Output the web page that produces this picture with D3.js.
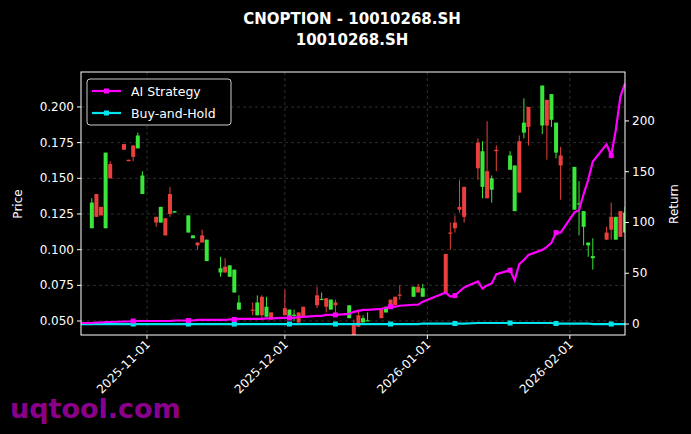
<!DOCTYPE html>
<html><head><meta charset="utf-8">
<script src="https://cdn.jsdelivr.net/npm/d3@7"></script>
<style>body{margin:0;background:#000}svg{display:block}</style>
</head><body><svg id="c" width="691" height="434"></svg>
<script>
const dates=["2025-10-17","2025-10-20","2025-10-21","2025-10-22","2025-10-23","2025-10-24","2025-10-27","2025-10-28","2025-10-29","2025-10-30","2025-10-31",
"2025-11-03","2025-11-04","2025-11-05","2025-11-06","2025-11-07","2025-11-10","2025-11-11","2025-11-12","2025-11-13","2025-11-14","2025-11-17","2025-11-18","2025-11-19","2025-11-20","2025-11-21","2025-11-24","2025-11-25","2025-11-26","2025-11-27","2025-11-28",
"2025-12-01","2025-12-02","2025-12-03","2025-12-04","2025-12-05","2025-12-08","2025-12-09","2025-12-10","2025-12-11","2025-12-12","2025-12-15","2025-12-16","2025-12-17","2025-12-18","2025-12-19","2025-12-22","2025-12-23","2025-12-24","2025-12-25","2025-12-26","2025-12-29","2025-12-30","2025-12-31",
"2026-01-05","2026-01-06","2026-01-07","2026-01-08","2026-01-09","2026-01-12","2026-01-13","2026-01-14","2026-01-15","2026-01-16","2026-01-19","2026-01-20","2026-01-21","2026-01-22","2026-01-23","2026-01-26","2026-01-27","2026-01-28","2026-01-29","2026-01-30",
"2026-02-02","2026-02-03","2026-02-04","2026-02-05","2026-02-06","2026-02-09","2026-02-10","2026-02-11","2026-02-12","2026-02-13"];
const opens=[.128,.115,.139,.130,.115,.160,.174,.163,.173,.171,.139,
.123,.119,.122,.139,.126,.112,.108,.105,.110,.092,.084,.088,.081,.070,.058,.058,.054,.067,.053,.056,
.059,.053,.054,.056,.060,.068,.065,.066,.058,.063,.052,.048,.054,.049,.050,.058,.056,.065,.067,.0685,.067,.074,.067,
.097,.112,.119,.130,.144,.175,.144,.155,.142,.170,.156,.127,.176,.182,.200,.187,.205,.191,.168,.166,
.128,.132,.116,.103,.094,.112,.123,.107,.127,.112];
const highs=[.137,.136,.139,.130,.168,.162,.174,.163,.173,.182,.155,
.123,.130,.122,.144,.127,.124,.110,.105,.114,.107,.095,.094,.089,.086,.068,.063,.068,.068,.067,.056,
.072,.058,.058,.056,.060,.074,.070,.066,.065,.065,.061,.051,.058,.054,.056,.058,.060,.065,.067,.075,.074,.076,.076,
.097,.119,.124,.149,.144,.178,.176,.190,.152,.173,.169,.159,.180,.206,.200,.215,.205,.209,.189,.172,
.158,.148,.127,.105,.108,.116,.133,.123,.127,.130];
const lows=[.128,.115,.123,.124,.115,.150,.170,.162,.162,.171,.139,
.116,.119,.110,.123,.126,.112,.108,.100,.105,.092,.081,.084,.081,.070,.058,.054,.054,.052,.053,.051,
.054,.053,.050,.048,.053,.059,.065,.056,.058,.054,.052,.040,.046,.049,.050,.052,.056,.059,.061,.065,.067,.070,.067,
.069,.100,.112,.126,.119,.149,.136,.136,.133,.155,.156,.127,.140,.178,.173,.181,.163,.186,.164,.135,
.128,.110,.103,.095,.086,.107,.107,.107,.109,.112];
const closes=[.137,.133,.123,.124,.168,.150,.170,.162,.165,.180,.152,
.119,.130,.110,.125,.127,.124,.110,.103,.105,.107,.087,.084,.089,.086,.063,.0575,.063,.054,.060,.051,
.054,.058,.0545,.049,.053,.061,.0655,.060,.065,.061,.061,.040,.046,.052,.0505,.052,.060,.059,.061,.068,.074,.070,.073,
.069,.1115,.115,.128,.123,.157,.169,.136,.150,.169,.166,.159,.140,.189,.186,.215,.187,.209,.189,.159,
.158,.1325,.127,.105,.0955,.107,.114,.123,.109,.126];
const aiReturn=[1,1,1.5,1.5,2,2,2.5,2.5,3,3,3,
3,3,3,3,3.5,3.5,3.5,4,4,4,4,4,4.5,4.5,5,5,5,5,5.5,5.5,
6,6,6,7,7,8,8,9,9,9,10,12,13,14,14,15,16,17,17,18,19,19,22,
31,27,28,32,36,42,35,38,40,49,53,43,59,63,68,73,76,80,90,90,
110,112,128,142,160,177,166,191,224,237];
const bhReturn=[0,0,0,0,0,0,0,0,0,0,0,
0,0,0,0,0,0,0,0,0,0,0,0,0,0,0,0,0,0,0,0,
0,0,0,0,0,0,0,0,0,0,0,0,0,0,0,0,0,0,0,0,0,0,0.5,
0.5,0.5,0.5,0.5,0.5,1,1,1,1,1,1,1,1,1,1,1,1,1,0.5,0.5,
0.5,0.5,0.5,0.5,0,0,0,0,0,0];
const priceTicks=[0.05,0.075,0.1,0.125,0.15,0.175,0.2];
const returnTicks=[0,50,100,150,200];
const monthTicks=["2025-11-01","2025-12-01","2026-01-01","2026-02-01"];

const svg=d3.select("#c");
const L=81,R=625,T=72,B=335;
const pd=d3.timeParse("%Y-%m-%d");
const x=d3.scaleTime().domain([new Date(2025,9,17,15,30),new Date(2026,1,13,0,0)]).range([L,R]);
const y=d3.scaleLinear().domain([0.0402,0.2245]).range([B,T]);
const y2=d3.scaleLinear().domain([-10.8,248.2]).range([B,T]);
svg.append("rect").attr("width",691).attr("height",434).attr("fill","#000");
const grid=svg.append("g").attr("stroke","#444").attr("stroke-dasharray","3,3").attr("stroke-width",0.7);
priceTicks.forEach(t=>grid.append("line").attr("x1",L).attr("x2",R).attr("y1",y(t)).attr("y2",y(t)));
monthTicks.forEach(t=>grid.append("line").attr("x1",x(pd(t))).attr("x2",x(pd(t))).attr("y1",T).attr("y2",B));
const clip=svg.append("clipPath").attr("id","cp").append("rect").attr("x",L).attr("y",T).attr("width",R-L).attr("height",B-T);
const g=svg.append("g").attr("clip-path","url(#cp)");
dates.forEach((d,i)=>{
  const cx=x(pd(d)),up=closes[i]>=opens[i],col=up?"#39e639":"#e8403c";
  g.append("line").attr("x1",cx).attr("x2",cx).attr("y1",y(highs[i])).attr("y2",y(lows[i])).attr("stroke",col).attr("stroke-width",1);
  const t=y(Math.max(opens[i],closes[i])),b=y(Math.min(opens[i],closes[i]));
  g.append("rect").attr("x",cx-2).attr("width",4).attr("y",t).attr("height",Math.max(1.2,b-t)).attr("fill",col);
});
const line=arr=>d3.line().x((d,i)=>x(pd(dates[i]))).y(d=>y2(d))(arr);
[[bhReturn,"#00e5ee"],[aiReturn,"#ff00ff"]].forEach(([arr,c])=>{
  g.append("path").attr("d",line(arr)).attr("fill","none").attr("stroke",c).attr("stroke-width",2.2);
  arr.forEach((v,i)=>{if(i%8===0)g.append("rect").attr("x",x(pd(dates[i]))-2.5).attr("y",y2(v)-2.5).attr("width",5).attr("height",5).attr("fill",c);});
});
svg.append("rect").attr("x",L).attr("y",T).attr("width",R-L).attr("height",B-T).attr("fill","none").attr("stroke","#fff").attr("stroke-width",1);
const ax=svg.append("g").attr("fill","#fff").attr("font-family","DejaVu Sans").attr("font-size",12);
priceTicks.forEach(t=>{const yy=y(t);
  svg.append("line").attr("x1",L-4).attr("x2",L).attr("y1",yy).attr("y2",yy).attr("stroke","#fff");
  ax.append("text").attr("x",L-7).attr("y",yy+4).attr("text-anchor","end").text(d3.format(".3f")(t));});
returnTicks.forEach(t=>{const yy=y2(t);
  svg.append("line").attr("x1",R).attr("x2",R+4).attr("y1",yy).attr("y2",yy).attr("stroke","#fff");
  ax.append("text").attr("x",R+7).attr("y",yy+4).text(t);});
monthTicks.forEach(t=>{const xx=x(pd(t));
  svg.append("line").attr("x1",xx).attr("x2",xx).attr("y1",B).attr("y2",B+4).attr("stroke","#fff");
  ax.append("text").attr("transform",`translate(${xx+4},${B+10}) rotate(-45)`).attr("text-anchor","end").text(t);});
ax.append("text").attr("transform","translate(22,204) rotate(-90)").attr("text-anchor","middle").text("Price");
ax.append("text").attr("transform","translate(678,204) rotate(-90)").attr("text-anchor","middle").text("Return");
const tt=svg.append("g").attr("fill","#fff").attr("font-family","DejaVu Sans").attr("font-weight","bold").attr("font-size",15).attr("text-anchor","middle");
tt.append("text").attr("x",352).attr("y",24).text("CNOPTION - 10010268.SH");
tt.append("text").attr("x",352).attr("y",45).text("10010268.SH");
const lg=svg.append("g");
lg.append("rect").attr("x",87).attr("y",79).attr("width",144).attr("height",46).attr("rx",3).attr("fill","#000").attr("fill-opacity",0.8).attr("stroke","#ccc");
[["AI Strategy","#ff00ff",91],["Buy-and-Hold","#00e5ee",113]].forEach(([n,c,yy])=>{
  lg.append("line").attr("x1",92).attr("x2",121).attr("y1",yy).attr("y2",yy).attr("stroke",c).attr("stroke-width",2.2);
  lg.append("rect").attr("x",104).attr("y",yy-2.5).attr("width",5).attr("height",5).attr("fill",c);
  lg.append("text").attr("x",131).attr("y",yy+4.5).attr("fill","#fff").attr("font-family","DejaVu Sans").attr("font-size",12.5).text(n);
});
svg.append("text").attr("x",10).attr("y",418).attr("fill","#8b008b").attr("font-family","DejaVu Sans").attr("font-weight","bold").attr("font-size",27).text("uqtool.com");
</script></body></html>
